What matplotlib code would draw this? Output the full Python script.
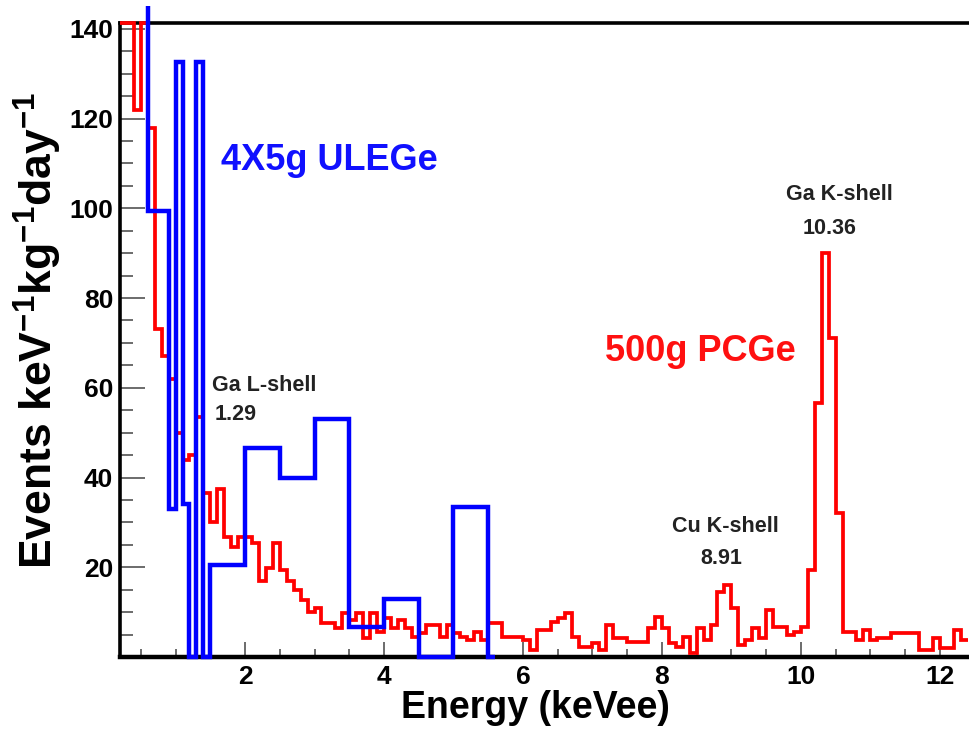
import numpy as np
import matplotlib
matplotlib.use('Agg')
import matplotlib.pyplot as plt
from matplotlib.ticker import MultipleLocator

matplotlib.rcParams['font.family'] = ['Liberation Sans', 'DejaVu Sans']
matplotlib.rcParams['font.weight'] = 'bold'
matplotlib.rcParams['mathtext.fontset'] = 'custom'
matplotlib.rcParams['mathtext.rm'] = 'Liberation Sans:bold'
matplotlib.rcParams['mathtext.bf'] = 'Liberation Sans:bold'

# 500g PCGe spectrum, 0.1 keV bins from 0.2 keV (values above frame are clipped)
pcge_edges = np.round(np.arange(0.2, 12.41, 0.1), 1)
pcge_counts = [
    150, 150, 122, 150, 118, 73, 67, 62, 50, 44,
    45, 53.5, 36.5, 30, 37.5, 26.7, 24.5, 26.7, 26.7, 25.4,
    17, 19.8, 25.4, 19.4, 17, 15, 12.7, 10, 11, 7.5,
    7.5, 6.5, 9.8, 8.2, 9.8, 4.2, 9.8, 5.5,
    8.7, 6.5, 8.2, 6.5, 4.5, 5.3, 7.1, 7.1, 4.5, 7.1,
    5.3, 4.5, 3.8, 5.5, 3.8, 7.5, 7.5, 4.5, 4.5, 4.5,
    3.8, 1.5, 6, 6, 7.8, 8.7, 9.8, 4.5, 2.2, 2.2,
    3.1, 1.5, 7.1, 4.2, 4.2, 3.3, 3.3, 3.3, 6.5, 9,
    6.5, 3.1, 2.2, 4.5, 1, 6.5, 3.8, 7.1, 14.5, 16,
    11, 2.7, 3.8, 6.5, 4.2, 10.5, 6.7, 6.7, 4.9, 5.5,
    6.7, 19.4, 56.6, 90, 71, 32, 5.6, 5.6, 3.8, 6,
    3.8, 4.2, 4.2, 5.3, 5.3, 5.3, 5.3, 1.5, 1.5, 4.2,
    2, 2, 6, 3.8,
]

# 4x5g ULEGe spectrum, variable bins
ulege_edges = [0.6, 0.6, 0.9, 1.0, 1.1, 1.2, 1.3, 1.4, 1.5, 2.0, 2.5,
               3.0, 3.5, 4.0, 4.5, 5.0, 5.5, 5.6]
ulege_counts = [145, 99.5, 33, 132.5, 34, 0, 132.5, 0, 20.5, 46.5, 40,
                53, 6.7, 13, 0, 33.5, 0]

x_range = (0.2, 12.42)
y_range = (0, 141.3)

fig = plt.figure(figsize=(9.69, 7.29), dpi=100)
ax = fig.add_axes([120/969, 1-657/729, 849/969, 634/729])

ax.stairs(np.minimum(pcge_counts, y_range[1]), pcge_edges, baseline=None,
          color='#ff0000', lw=2.7, zorder=3, clip_on=False)
ax.stairs(ulege_counts, ulege_edges, baseline=None,
          color='#0000ff', lw=3.2, zorder=4, clip_on=False)

ax.set_xlim(*x_range)
ax.set_ylim(*y_range)

ax.spines['right'].set_visible(False)
ax.spines['top'].set_linewidth(2.6)
ax.spines['left'].set_linewidth(2.6)
ax.spines['bottom'].set_linewidth(3.2)

ax.xaxis.set_major_locator(MultipleLocator(2))
ax.xaxis.set_minor_locator(MultipleLocator(0.5))
ax.yaxis.set_major_locator(MultipleLocator(20))
ax.yaxis.set_minor_locator(MultipleLocator(5))
ax.tick_params(axis='both', which='both', direction='in', color='#444444',
               width=1.1, top=False, right=False)
ax.tick_params(axis='x', which='major', length=11, labelsize=19, pad=6)
ax.tick_params(axis='x', which='minor', length=6)
ax.tick_params(axis='y', which='major', length=18, labelsize=19, pad=5)
ax.tick_params(axis='y', which='minor', length=9)
ax.set_yticks([20, 40, 60, 80, 100, 120, 140])

ax.set_xlabel('Energy (keVee)', fontsize=27, fontweight='bold')
ax.set_ylabel(r'Events keV$^{\mathbf{-1}}$kg$^{\mathbf{-1}}$day$^{\mathbf{-1}}$',
              fontsize=32, fontweight='bold')
ax.xaxis.set_label_coords(0.489, -0.052)
ax.yaxis.set_label_coords(-0.066, 0.515)

ax.text(3.21, 110.7, '4X5g ULEGe', color='#1010ff', fontsize=26,
        fontweight='bold', ha='center', va='center')
ax.text(8.55, 68, '500g PCGe', color='#ff1010', fontsize=26,
        fontweight='bold', ha='center', va='center')

txt = '#222222'
ax.text(2.27, 60.6, 'Ga L-shell', color=txt, fontsize=15.5, ha='center', va='center')
ax.text(1.87, 54, '1.29', color=txt, fontsize=15.5, ha='center', va='center')
ax.text(8.91, 29, 'Cu K-shell', color=txt, fontsize=15.5, ha='center', va='center')
ax.text(8.85, 22, '8.91', color=txt, fontsize=15.5, ha='center', va='center')
ax.text(10.56, 103, 'Ga K-shell', color=txt, fontsize=15.5, ha='center', va='center')
ax.text(10.42, 95.5, '10.36', color=txt, fontsize=15.5, ha='center', va='center')

fig.savefig('out.png', dpi=100)
